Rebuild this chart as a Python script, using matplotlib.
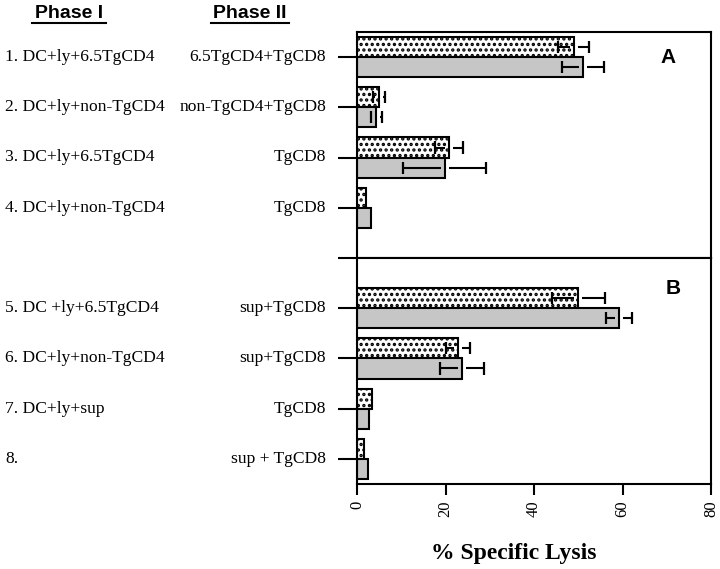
import matplotlib
matplotlib.use("Agg")
import matplotlib.pyplot as plt
import numpy as np

phase1_A = ["1. DC+ly+6.5TgCD4", "2. DC+ly+non-TgCD4", "3. DC+ly+6.5TgCD4", "4. DC+ly+non-TgCD4"]
phase2_A = ["6.5TgCD4+TgCD8", "non-TgCD4+TgCD8", "TgCD8", "TgCD8"]
phase1_B = ["5. DC +ly+6.5TgCD4", "6. DC+ly+non-TgCD4", "7. DC+ly+sup", "8."]
phase2_B = ["sup+TgCD8", "sup+TgCD8", "TgCD8", "sup + TgCD8"]

dotted_A = [49.0, 5.0, 20.8, 2.0]
dotted_A_err = [3.5, 1.4, 3.2, 0]
gray_A = [51.1, 4.4, 19.8, 3.2]
gray_A_err = [4.8, 1.2, 9.3, 0]

dotted_B = [50.0, 22.9, 3.5, 1.6]
dotted_B_err = [6.0, 2.7, 0, 0]
gray_B = [59.2, 23.8, 2.6, 2.4]
gray_B_err = [3.0, 5.0, 0, 0]

xticks = [0, 20, 40, 60, 80]

plt.rcParams['hatch.linewidth'] = 1.6
fig = plt.figure(figsize=(7.2, 5.69), dpi=100)
W, H = 720, 569
x0, x1 = 357, 711
axA = fig.add_axes([x0 / W, 1 - 258 / H, (x1 - x0) / W, (258 - 32) / H])
axB = fig.add_axes([x0 / W, 1 - 484 / H, (x1 - x0) / W, (484 - 258) / H])

serif = 'Liberation Serif'
sans = 'Liberation Sans'


def errbars(ax, ys, vals, errs):
    gap = 0.9
    cap = 0.12
    for yy, v, e in zip(ys, vals, errs):
        if e <= 0:
            continue
        lo, hi = v - e, v + e
        if v - gap > lo:
            ax.hlines(yy, lo, v - gap, color='black', lw=1.5, zorder=3)
        if v + gap < hi:
            ax.hlines(yy, v + gap, hi, color='black', lw=1.5, zorder=3)
        ax.vlines([lo, hi], yy - cap, yy + cap, color='black', lw=1.6, zorder=3)


def draw(ax, dv, de, gv, ge, ylim, ticks):
    y = np.arange(len(dv))
    h = 0.4
    ax.barh(y - 0.2, dv, height=h, facecolor='white', edgecolor='black',
            hatch='...', linewidth=1.5, zorder=2)
    ax.barh(y + 0.2, gv, height=h, facecolor='#c6c6c6', edgecolor='black',
            linewidth=1.5, zorder=2)
    errbars(ax, y - 0.2, dv, de)
    errbars(ax, y + 0.2, gv, ge)
    ax.set_xlim(0, 80)
    ax.set_ylim(*ylim)
    ax.set_yticks(ticks)
    ax.set_yticklabels([])
    ax.tick_params(axis='y', direction='out', length=14, width=1.5)
    for s in ax.spines.values():
        s.set_linewidth(1.5)


draw(axA, dotted_A, dotted_A_err, gray_A, gray_A_err, (4.0, -0.5), [0, 1, 2, 3, 4])
draw(axB, dotted_B, dotted_B_err, gray_B, gray_B_err, (3.5, -1.0), [0, 1, 2, 3])

axA.set_xticks([])
axB.set_xticks(xticks)
axB.set_xticklabels([str(t) for t in xticks], rotation=90, family=serif, fontsize=12)
axB.tick_params(axis='x', direction='out', length=8, width=1.5, pad=4)

axA.text(0.879, 0.885, 'A', transform=axA.transAxes, fontsize=15, fontweight='bold',
         family=sans, ha='center', va='center')
axB.text(0.893, 0.867, 'B', transform=axB.transAxes, fontsize=15, fontweight='bold',
         family=sans, ha='center', va='center')

# row labels
rowsA = [57, 107, 157, 208]
rowsB = [308, 358, 409, 459]
for labs1, labs2, rows in ((phase1_A, phase2_A, rowsA), (phase1_B, phase2_B, rowsB)):
    for l1, l2, r in zip(labs1, labs2, rows):
        fig.text(5 / W, 1 - r / H, l1, family=serif, fontsize=12.6, ha='left', va='center')
        fig.text(326 / W, 1 - r / H, l2, family=serif, fontsize=12.6, ha='right', va='center')

fig.text(69 / W, 1 - 13 / H, 'Phase I', family=sans, fontsize=14, fontweight='bold',
         ha='center', va='center')
fig.text(250 / W, 1 - 13 / H, 'Phase II', family=sans, fontsize=14, fontweight='bold',
         ha='center', va='center')
# underlines
fig.add_artist(plt.Line2D([32 / W, 106 / W], [1 - 23 / H, 1 - 23 / H], color='black', lw=1.5))
fig.add_artist(plt.Line2D([211 / W, 289 / W], [1 - 23 / H, 1 - 23 / H], color='black', lw=1.5))

fig.text(514 / W, 1 - 553 / H, '% Specific Lysis', family=serif, fontsize=17,
         fontweight='bold', ha='center', va='center')

fig.savefig('out.png', dpi=100)
